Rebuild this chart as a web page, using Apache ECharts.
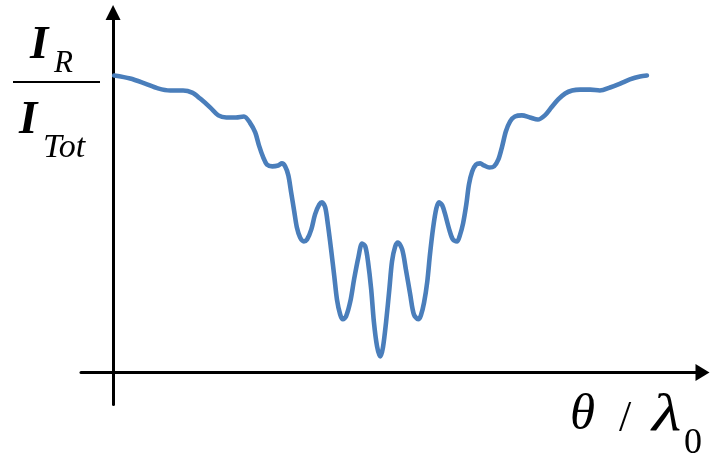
<!DOCTYPE html>
<html>
<head>
<meta charset="utf-8">
<script src="https://cdn.jsdelivr.net/npm/echarts@6/dist/echarts.min.js"></script>
<style>
  html, body { margin: 0; padding: 0; background: #fff; }
  #chart { width: 710px; height: 459px; }
</style>
</head>
<body>
<div id="chart"></div>
<script>
// Reflected intensity ratio I_R / I_Tot versus angle θ / λ0 (arbitrary units)
const theta = [
  0.2, 3.2, 6.0, 8.4, 10.7, 13.1, 14.8, 16.3, 18.2, 19.7, 21.2, 23.0, 24.5, 25.6,
  26.6, 27.3, 28.1, 28.8, 29.8, 30.9, 31.6, 32.2, 32.8, 33.3, 33.9, 34.4, 35.0,
  35.7, 36.3, 37.1, 37.8, 38.6, 39.1, 39.7, 40.2, 40.8, 41.4, 41.9, 42.5, 43.0,
  43.6, 44.4, 45.1, 45.9, 46.6, 47.2, 47.7, 48.3, 48.8, 49.4, 50.0, 50.5, 51.1,
  51.7, 52.2, 52.8, 53.3, 54.1, 54.8, 55.6, 56.3, 57.1, 57.6, 58.2, 58.8, 59.3,
  59.9, 60.5, 61.0, 61.6, 62.1, 62.9, 63.6, 64.4, 64.9, 65.5, 66.1, 66.6, 67.2,
  67.9, 68.7, 69.4, 70.4, 71.3, 72.1, 72.8, 73.5, 74.3, 75.2, 76.5, 78.0, 79.5,
  80.8, 82.0, 83.3, 84.6, 85.9, 87.4, 89.3, 91.1, 93.0, 94.9, 96.7, 98.6, 99.9
];
const ratio = [
  0.990, 0.980, 0.963, 0.947, 0.940, 0.940, 0.933, 0.913, 0.883, 0.857, 0.850, 0.850, 0.853, 0.833,
  0.800, 0.757, 0.717, 0.693, 0.687, 0.690, 0.697, 0.687, 0.657, 0.603, 0.537, 0.483, 0.450,
  0.437, 0.443, 0.477, 0.527, 0.560, 0.567, 0.550, 0.493, 0.410, 0.320, 0.243, 0.193, 0.177,
  0.187, 0.237, 0.310, 0.383, 0.430, 0.420, 0.370, 0.277, 0.170, 0.087, 0.053, 0.083, 0.170,
  0.277, 0.370, 0.420, 0.433, 0.410, 0.343, 0.260, 0.193, 0.177, 0.190, 0.233, 0.303, 0.393,
  0.483, 0.547, 0.567, 0.557, 0.530, 0.477, 0.443, 0.437, 0.457, 0.497, 0.560, 0.627, 0.670,
  0.693, 0.697, 0.690, 0.683, 0.687, 0.710, 0.753, 0.803, 0.837, 0.853, 0.857, 0.850, 0.843,
  0.857, 0.883, 0.910, 0.930, 0.940, 0.943, 0.943, 0.940, 0.950, 0.963, 0.977, 0.987, 0.990
];

const points = theta.map((t, i) => [t, ratio[i]]);

const serif = '"Liberation Serif", "DejaVu Serif", serif';
const axisColor = '#000000';
const curveColor = '#4a7ebb';

// place a text by its alphabetic baseline (zrender positions by the top of the em box)
function label(text, x, baseline, size, style, scaleX) {
  return {
    type: 'text',
    silent: true,
    x: x,
    y: baseline - 0.805 * size,
    scaleX: scaleX || 1,
    style: {
      text: text,
      font: (style || '') + ' ' + size + 'px ' + serif,
      fill: '#000',
      verticalAlign: 'top',
      align: 'left'
    }
  };
}

const chart = echarts.init(document.getElementById('chart'), null, { renderer: 'canvas' });

chart.setOption({
  animation: false,
  backgroundColor: '#ffffff',
  grid: { left: 81, right: 7.5, top: 12.5, bottom: 54.5 },
  xAxis: {
    type: 'value',
    min: -6,
    max: 110.3,
    axisLine: {
      onZero: true,
      symbol: ['none', 'triangle'],
      symbolSize: [17, 14],
      lineStyle: { color: axisColor, width: 3 }
    },
    axisTick: { show: false },
    axisLabel: { show: false },
    splitLine: { show: false }
  },
  yAxis: {
    type: 'value',
    min: -0.107,
    max: 1.2,
    axisLine: {
      onZero: true,
      symbol: ['none', 'triangle'],
      symbolSize: [15, 15],
      lineStyle: { color: axisColor, width: 3 }
    },
    axisTick: { show: false },
    axisLabel: { show: false },
    splitLine: { show: false }
  },
  series: [{
    type: 'line',
    data: points,
    smooth: 0.3,
    showSymbol: false,
    lineStyle: { color: curveColor, width: 4.6, cap: 'round', join: 'round' },
    z: 3
  }],
  graphic: [
    // y-axis quantity: fraction I_R / I_Tot
    label('I', 30, 60, 47, 'italic bold'),
    label('R', 54, 73, 31, 'italic'),
    {
      type: 'line', silent: true,
      shape: { x1: 13, y1: 82, x2: 100, y2: 82 },
      style: { stroke: '#000', lineWidth: 2 }
    },
    label('I', 19, 135, 47, 'italic bold'),
    label('Tot', 43, 158, 34, 'italic'),
    // x-axis quantity: θ / λ0
    label('θ', 570, 431, 51, 'italic'),
    label('/', 619, 433, 44, ''),
    label('λ', 652, 432, 52, 'italic', 1.3),
    label('0', 684, 455, 36, '')
  ]
});
</script>
</body>
</html>
